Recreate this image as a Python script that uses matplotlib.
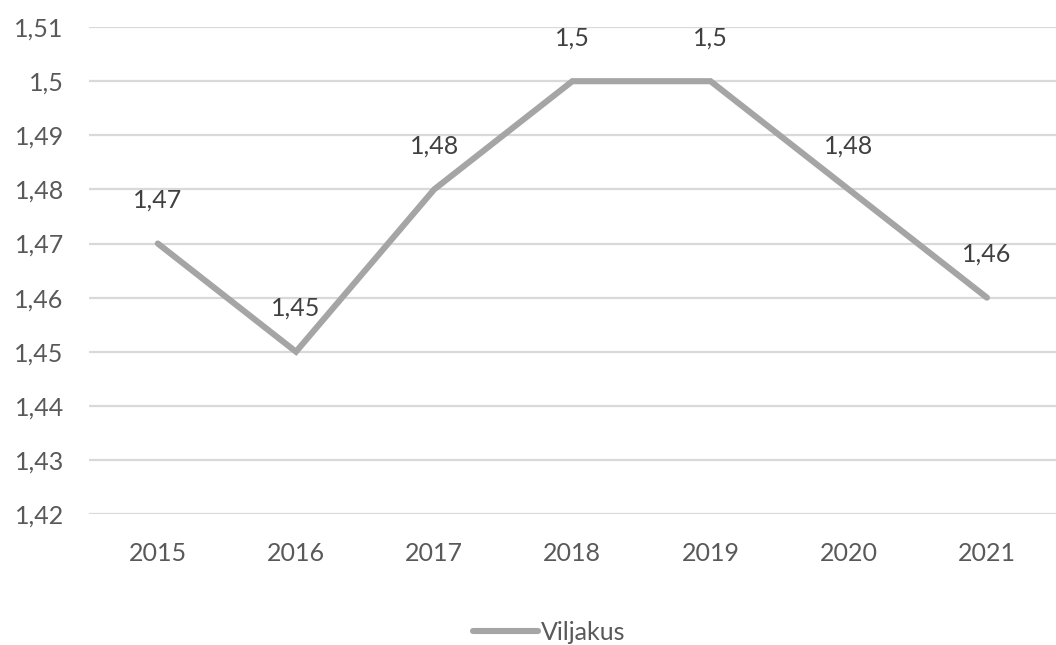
import matplotlib
matplotlib.use("Agg")
import matplotlib.pyplot as plt
from matplotlib.ticker import FuncFormatter

years = ["2015", "2016", "2017", "2018", "2019", "2020", "2021"]
values = [1.47, 1.45, 1.48, 1.50, 1.50, 1.48, 1.46]
series_name = "Viljakus"
yticks = [1.42, 1.43, 1.44, 1.45, 1.46, 1.47, 1.48, 1.49, 1.50, 1.51]

plt.rcParams['font.family'] = ['Lato', 'DejaVu Sans']

def fmt(v):
    s = ("%.2f" % v).rstrip('0').rstrip('.')
    return s.replace('.', ',')

fig = plt.figure(figsize=(10.56, 6.45), dpi=100)
ax = fig.add_axes([0.084, 0.203, 0.916, 0.755])

x = list(range(len(years)))
line, = ax.plot(x, values, color='#A5A5A5', lw=4.4, solid_capstyle='round',
                solid_joinstyle='miter', label=series_name, zorder=3)

for xi, v in zip(x, values):
    ax.annotate(fmt(v), (xi, v), xytext=(0, 23), textcoords='offset points',
                ha='center', va='bottom', fontsize=18, color='#404040')

ax.set_xlim(-0.5, len(years) - 0.5)
ax.set_ylim(1.42, 1.51)
ax.set_yticks(yticks)
ax.yaxis.set_major_formatter(FuncFormatter(lambda v, p: fmt(v)))
ax.set_xticks(x)
ax.set_xticklabels(years)
ax.grid(axis='y', color='#D9D9D9', lw=1.6, zorder=0)
ax.set_axisbelow(True)
for s in ax.spines.values():
    s.set_visible(False)
ax.tick_params(axis='both', length=0, labelsize=18, colors='#595959')
ax.tick_params(axis='y', pad=18)
ax.tick_params(axis='x', pad=20)

leg = fig.legend(handles=[line], loc='center', bbox_to_anchor=(0.52, 0.02),
                 frameon=False, fontsize=18, handlelength=2.6, handletextpad=0.1,
                 labelcolor='#595959')

fig.savefig("out.png", dpi=100)
